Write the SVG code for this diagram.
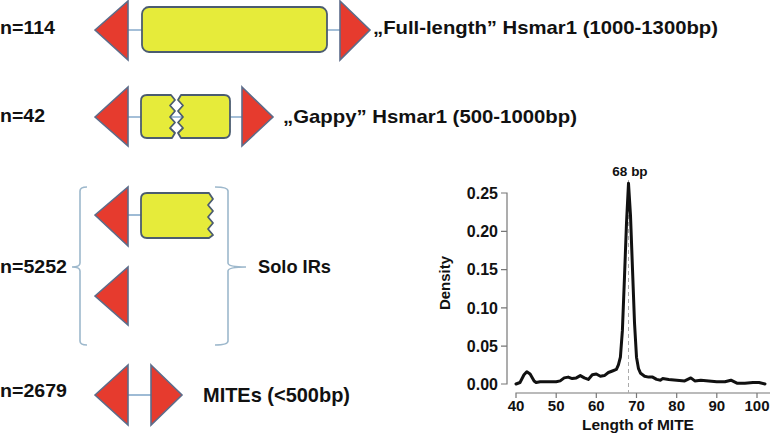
<svg xmlns="http://www.w3.org/2000/svg" width="776" height="435" viewBox="0 0 776 435">
<style>
.tri{fill:#E63B2E;stroke:#5C6C8A;stroke-width:1.6;stroke-linejoin:miter}
.box{fill:#E6EB3A;stroke:#4B5C70;stroke-width:1.8;stroke-linejoin:round}
.link{stroke:#86AACB;stroke-width:1.6;fill:none}
.brace{stroke:#9DB8CC;stroke-width:1.6;fill:none}
.lbl{font-family:"Liberation Sans",Arial,sans-serif;font-weight:bold;fill:#111}
.ax{stroke:#777;stroke-width:1.2;fill:none}
.tk{font-family:"Liberation Sans",Arial,sans-serif;font-weight:bold;font-size:16px;fill:#111}
.tx{font-family:"Liberation Sans",Arial,sans-serif;font-weight:bold;font-size:15px;fill:#111}
</style>
<rect width="776" height="435" fill="#fff"/>
<g id="connectors">
<line class="link" x1="128" y1="30" x2="340" y2="30"/>
<line class="link" x1="128" y1="117" x2="242" y2="117"/>
<line class="link" x1="128" y1="215" x2="141" y2="215"/>
<line class="link" x1="128" y1="395" x2="151" y2="395"/>
<path class="brace" d="M87,187 Q80,187 80,191 V263 Q80,267 72,267 Q80,267 80,271 V341 Q80,345 87,345"/>
<path class="brace" d="M215,187 Q228,187 228,191 V263 Q228,267 246,267 Q228,267 228,271 V341 Q228,345 215,345"/>
</g>
<g id="full-length">
<polygon class="tri" points="95,30 128,1 128,60"/>
<rect class="box" x="142" y="7" width="185" height="45" rx="7"/>
<polygon class="tri" points="340,1 370,30 340,60"/>
<text class="lbl" x="0" y="34" font-size="19" textLength="55" lengthAdjust="spacingAndGlyphs">n=114</text>
<text class="lbl" x="373" y="34" font-size="19" textLength="345" lengthAdjust="spacingAndGlyphs">„Full-length” Hsmar1 (1000-1300bp)</text>
</g>
<g id="gappy">
<polygon class="tri" points="95,117 128,87 128,146"/>
<path class="box" d="M147,95 H171 L175,100 L170,105.5 L175,111 L170,117 L175,122.5 L170,128 L175,133 L172,138 H147 Q141,138 141,132 V101 Q141,95 147,95 Z"/>
<path class="box" d="M181,95 L178,100 L183,105.5 L178,111 L183,117 L178,122.5 L183,128 L178,133 L181,138 H224 Q230,138 230,132 V101 Q230,95 224,95 Z"/>
<polygon class="tri" points="242,87 273,117 242,146"/>
<text class="lbl" x="0" y="122" font-size="19" textLength="45" lengthAdjust="spacingAndGlyphs">n=42</text>
<text class="lbl" x="283" y="123" font-size="19" textLength="294" lengthAdjust="spacingAndGlyphs">„Gappy” Hsmar1 (500-1000bp)</text>
</g>
<g id="solo-irs">
<polygon class="tri" points="95,215 128,187 128,246"/>
<path class="box" d="M147,193 H209 L213,199 L208,205 L213,211 L208,217 L213,223 L208,229 L213,235 L209,238 H147 Q141,238 141,232 V199 Q141,193 147,193 Z"/>
<polygon class="tri" points="95,296 128,267 128,325"/>
<text class="lbl" x="0" y="273" font-size="19" textLength="67" lengthAdjust="spacingAndGlyphs">n=5252</text>
<text class="lbl" x="258" y="273" font-size="19" textLength="73" lengthAdjust="spacingAndGlyphs">Solo IRs</text>
</g>
<g id="mites">
<polygon class="tri" points="95,395 128,365 128,425"/>
<polygon class="tri" points="151,365 182,395 151,425"/>
<text class="lbl" x="0" y="397" font-size="19" textLength="67" lengthAdjust="spacingAndGlyphs">n=2679</text>
<text class="lbl" x="203" y="402" font-size="21" textLength="147" lengthAdjust="spacingAndGlyphs">MITEs (&lt;500bp)</text>
</g>
<g id="density-chart">
<path class="ax" d="M501,193 H507 V384 H501 M501,231.3 H507 M501,269.6 H507 M501,307.9 H507 M501,346.1 H507"/>
<path class="ax" d="M516,398 V393 H770 M556.2,393 V398 M596.3,393 V398 M636.5,393 V398 M676.7,393 V398 M716.8,393 V398 M757,393 V398"/>
<g class="tk" text-anchor="end">
<text x="498" y="199">0.25</text>
<text x="498" y="237">0.20</text>
<text x="498" y="275">0.15</text>
<text x="498" y="314">0.10</text>
<text x="498" y="352">0.05</text>
<text x="498" y="390">0.00</text>
</g>
<g class="tx" text-anchor="middle">
<text x="516" y="411">40</text>
<text x="556.2" y="411">50</text>
<text x="596.3" y="411">60</text>
<text x="636.5" y="411">70</text>
<text x="676.7" y="411">80</text>
<text x="716.8" y="411">90</text>
<text x="757" y="411">100</text>
</g>
<text class="lbl" x="638" y="430" font-size="15.5" text-anchor="middle">Length of MITE</text>
<text class="lbl" x="0" y="0" font-size="15" text-anchor="middle" transform="translate(450,283) rotate(-90)">Density</text>
<line x1="628.5" y1="180" x2="628.5" y2="393" stroke="#aaa" stroke-width="1" stroke-dasharray="4,3"/>
<text class="lbl" x="630" y="176" font-size="13.5" text-anchor="middle">68 bp</text>
<polyline fill="none" stroke="#111" stroke-width="3" stroke-linejoin="round" stroke-linecap="round" points="516,384 520,382.5 524,374.8 526.8,371.7 530.1,374 534.1,381 536.1,382.5 540.1,381.7 548.1,381.7 556.2,381.7 560.2,380.9 564.2,377.9 568.2,377.1 572.2,378.6 576.3,377.9 580.3,375.6 584.3,377.9 588.3,379.4 592.3,374.8 596.3,374 600.4,376.3 604.4,375.6 608.4,372.5 612.4,371 616.4,369.4 618.4,364.9 620.4,357.2 622.4,330.4 624.5,276.8 626.5,223.1 628.5,183.3 630.5,215.5 632.5,269.1 634.5,322.7 636.5,357.2 638.5,368.7 640.6,373.3 644.6,376.3 648.6,377.1 652.6,377.1 656.6,379.4 660.6,380.2 662.6,378.6 668.7,379.4 676.7,380.2 684.7,380.9 690.8,377.9 694.8,380.9 700.8,380.2 708.8,380.9 716.8,381.7 724.9,381.7 730.9,380.2 736.9,383.2 744.9,383.2 752.9,382.5 759,382.5 765,384"/>
</g>
</svg>
